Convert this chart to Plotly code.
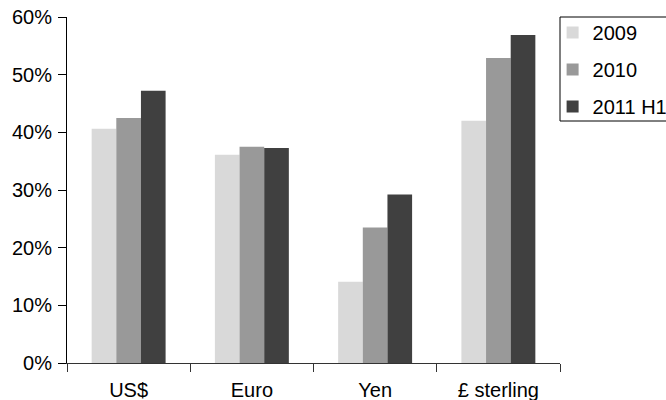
import plotly.graph_objects as go

# Share of currency (%), by year
categories = ["US$", "Euro", "Yen", "£ sterling"]
series_names = ["2009", "2010", "2011 H1"]
values_2009 = [40.6, 36.1, 14.1, 42.0]
values_2010 = [42.5, 37.5, 23.5, 52.9]
values_2011h1 = [47.2, 37.3, 29.2, 56.9]
y_ticks = [0, 10, 20, 30, 40, 50, 60]

colors = ["#d9d9d9", "#999999", "#404040"]
font_family = "Liberation Sans, Arial, sans-serif"

fig = go.Figure()
for name, vals, col in zip(series_names, [values_2009, values_2010, values_2011h1], colors):
    fig.add_trace(go.Bar(
        x=categories, y=vals, name=name, legendgroup=name,
        marker=dict(color=col, line=dict(width=0)),
    ))

fig.update_layout(
    width=666, height=400,
    margin=dict(l=67, r=106, t=17, b=37, autoexpand=False),
    paper_bgcolor="white", plot_bgcolor="white",
    barmode="group", bargap=0.4, bargroupgap=0,
    font=dict(family=font_family, size=20, color="black"),
    showlegend=True,
    legend=dict(
        x=0.985, xanchor="left", y=1.0 + 4 / 346, yanchor="top",
        borderwidth=0, bgcolor="rgba(0,0,0,0)",
        traceorder="grouped", tracegroupgap=8,
        font=dict(size=20),
    ),
    # legend frame
    shapes=[dict(
        type="rect", xref="paper", yref="paper",
        x0=1.0, x1=1.3, y0=1.0, y1=(363 - 121) / 346,
        line=dict(color="black", width=1), fillcolor="rgba(0,0,0,0)",
    )],
)

fig.update_xaxes(
    range=[-0.5, 3.5],
    showline=True, linecolor="#333333", linewidth=1,
    ticks="outside", ticklen=8, tickcolor="#333333", tickson="boundaries",
    ticklabelstandoff=9,
    showgrid=False, zeroline=False,
)
fig.update_yaxes(
    range=[0, 60], tickmode="array", tickvals=y_ticks,
    ticktext=[f"{v}%" for v in y_ticks],
    showline=True, linecolor="black", linewidth=1,
    ticks="outside", ticklen=8, tickcolor="black",
    ticklabelstandoff=2,
    showgrid=False, zeroline=False,
)

fig.write_html("out.html")
